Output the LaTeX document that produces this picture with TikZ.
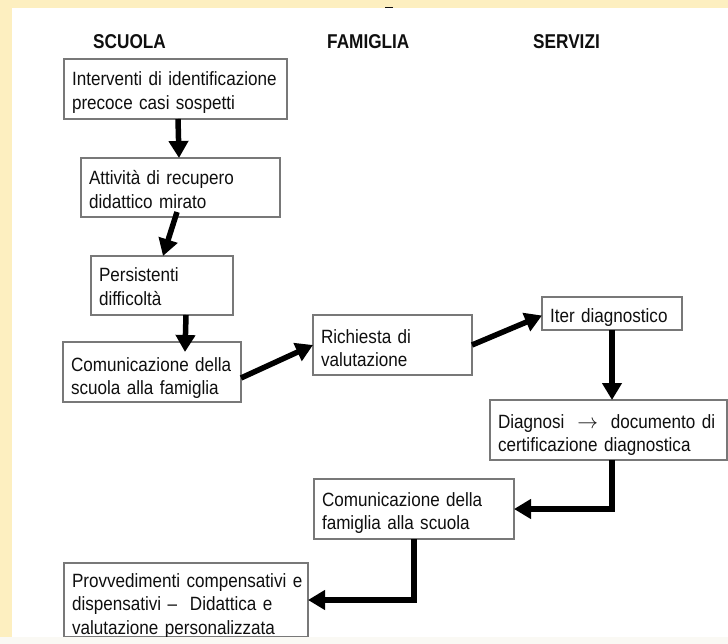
\documentclass[tikz,border=0pt]{standalone}
\usepackage{fontspec}
\setmainfont{Liberation Sans}[FakeStretch=0.89]
\newfontfamily\hdfont{Liberation Sans}[FakeStretch=0.86]
\usetikzlibrary{arrows.meta}
\definecolor{bgyellow}{RGB}{253,239,192}
\definecolor{boxgray}{RGB}{120,120,120}
\definecolor{textblack}{RGB}{15,15,15}
\definecolor{bandwhite}{RGB}{250,249,244}
\begin{document}
\begin{tikzpicture}[x=1pt,y=-1pt,
  box/.style={draw=boxgray, line width=1.2pt, fill=white, anchor=north west,
    inner xsep=8pt, inner ysep=0pt, outer sep=0pt, align=left,
    font=\fontsize{19.2}{23.5}\selectfont, text=textblack, text height=27pt},
  flow/.style={line width=5.5pt, draw=black, -{Triangle[width=19pt,length=17pt]}},
  hd/.style={anchor=base west, inner sep=0pt, text=textblack,
    font=\hdfont\bfseries\fontsize{20}{24}\selectfont}
]
\useasboundingbox (0,0) rectangle (728,644);
% background
\fill[bgyellow] (0,0) rectangle (728,644);
\fill[white] (12,8) rectangle (728,644);
\draw[line width=1.5pt, textblack] (385,7.5) -- (393,7.5);

% headers
\node[hd] (hs) at (93,49) {SCUOLA};
\node[hd] (hf) at (327,49) {FAMIGLIA};
\node[hd] (hv) at (533,49) {SERVIZI};

% boxes
\node[box, text width=207pt, text depth=33pt] (b1) at (64,59)
  {\mbox{Interventi di identificazione}\\\mbox{precoce casi sospetti}};
\node[box, text width=183pt, text depth=32pt] (b2) at (81,158)
  {\mbox{Attività di recupero}\\\mbox{didattico mirato}};
\node[box, text width=126pt, text depth=33pt, text height=26pt] (b3) at (91,256)
  {\mbox{Persistenti}\\\mbox{difficoltà}};
\node[box, text width=162pt, text depth=31pt, text height=29pt] (b4) at (63,342)
  {\mbox{Comunicazione della}\\\mbox{scuola alla famiglia}};
\node[box, text width=143pt, text depth=32pt, text height=28pt] (b5) at (313,315)
  {\mbox{Richiesta di}\\\mbox{valutazione}};
\node[box, text width=124pt, text depth=8pt, text height=25pt] (b6) at (542,297)
  {\mbox{Iter diagnostico}};
\node[box, text width=221pt, text depth=32pt, text height=28pt] (b7) at (490,400)
  {\mbox{Diagnosi \ $\rightarrow$ \ documento di}\\\mbox{certificazione diagnostica}};
\node[box, text width=184pt, text depth=33pt, text height=27pt] (b8) at (314,479)
  {\mbox{Comunicazione della}\\\mbox{famiglia alla scuola}};
\node[box, text width=228pt, text depth=50pt, text height=24pt] (b9) at (64,563)
  {\mbox{Provvedimenti compensativi e}\\\mbox{dispensativi --\ \ Didattica e}\\\mbox{valutazione personalizzata}};

% connectors
\draw[flow] ([xshift=114pt]b1.south west) -- ([xshift=98pt]b2.north west);
\draw[flow] ([xshift=96pt,yshift=5pt]b2.south west) -- ([xshift=72pt]b3.north west);
\draw[flow] ([xshift=95pt]b3.south west) -- ([xshift=122pt,yshift=-10pt]b4.north west);
\draw[flow] ([yshift=-6pt]b4.east) -- (b5.west);
\draw[flow] (b5.east) -- ([yshift=-2pt]b6.west);
\draw[flow] (b6.south) -- (b6.south |- b7.north);
\draw[flow] (b6.south |- b7.south) |- (b8.east);
\draw[flow] (b8.south) |- (b9.east);

% bottom band
\fill[bandwhite] (0,637) rectangle (728,644);
\end{tikzpicture}
\end{document}
